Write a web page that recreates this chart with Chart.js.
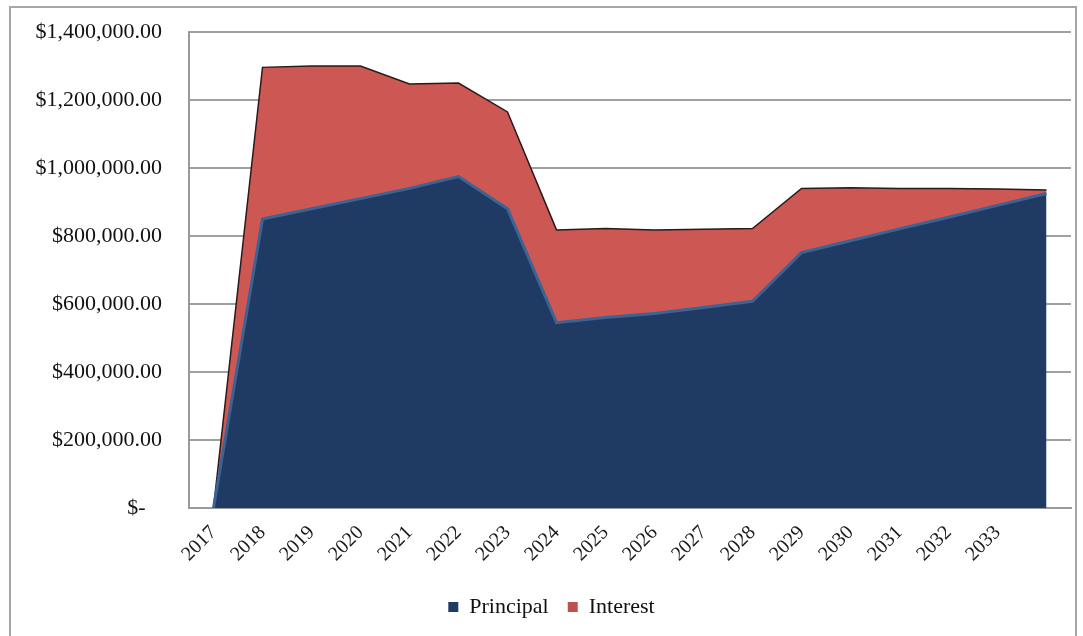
<!DOCTYPE html>
<html>
<head>
<meta charset="utf-8">
<script src="https://cdn.jsdelivr.net/npm/chart.js@4"></script>
<style>
  html, body { margin: 0; padding: 0; background: #fff; }
  #wrap { position: relative; width: 1083px; height: 636px; }
  #frame { position: absolute; left: 9px; top: 6px; width: 1068px; height: 640px;
           border: 2px solid #a6a6a6; box-sizing: border-box; }
  canvas { position: absolute; left: 0; top: 0; }
</style>
</head>
<body>
<div id="wrap">
  <div id="frame"></div>
  <canvas id="myChart" width="1083" height="636"></canvas>
</div>
<script>
const years = ["2017", "2018", "2019", "2020", "2021", "2022", "2023", "2024", "2025",
  "2026", "2027", "2028", "2029", "2030", "2031", "2032", "2033", ""];

const principal = [0, 850000, 880000, 910000, 940000, 975000, 880000, 545000, 560000,
  572000, 590000, 608000, 751000, 786000, 821000, 855000, 890000, 925000];

const interest = [0, 446000, 420000, 390000, 307000, 275000, 285000, 273000, 262000,
  246000, 230000, 214000, 189000, 156000, 119000, 85000, 48000, 10000];

const yTicks = [0, 200000, 400000, 600000, 800000, 1000000, 1200000, 1400000];

const serif = "'Liberation Serif', 'Times New Roman', serif";

function money(v) {
  if (v === 0) return "$-   ";
  return "$" + v.toLocaleString("en-US", { minimumFractionDigits: 2, maximumFractionDigits: 2 });
}

const ctx = document.getElementById("myChart");

new Chart(ctx, {
  type: "line",
  data: {
    labels: years,
    datasets: [
      {
        label: "Principal",
        data: principal,
        backgroundColor: "#1f3b63",
        borderColor: "#3b6394",
        borderWidth: 3,
        fill: "origin",
        pointRadius: 0,
        tension: 0
      },
      {
        label: "Interest",
        data: interest,
        backgroundColor: "#cd5753",
        borderColor: "#2a1a1a",
        borderWidth: 1.5,
        fill: "-1",
        pointRadius: 0,
        tension: 0
      }
    ]
  },
  options: {
    responsive: false,
    animation: false,
    layout: { padding: { left: 32, right: 12, top: 32, bottom: 8 } },
    plugins: {
      legend: {
        position: "bottom",
        labels: {
          color: "#111",
          font: { family: serif, size: 22 },
          boxWidth: 10,
          boxHeight: 10,
          padding: 19,
          generateLabels: chart => chart.data.datasets.map((ds, i) => ({
            text: ds.label,
            fillStyle: i === 0 ? "#1f3b63" : "#c0504d",
            strokeStyle: i === 0 ? "#1f3b63" : "#c0504d",
            lineWidth: 0,
            fontColor: "#111",
            datasetIndex: i
          }))
        }
      },
      tooltip: { enabled: false }
    },
    scales: {
      x: {
        offset: true,
        grid: { display: false, drawTicks: false },
        border: { color: "#999", width: 2 },
        afterFit: axis => {
          axis.height = 69;
          axis.paddingLeft = 0;
          axis.paddingRight = 0;
        },
        ticks: {
          color: "#1a1a1a",
          font: { family: serif, size: 20 },
          minRotation: 45,
          maxRotation: 45,
          autoSkip: false,
          padding: 13
        }
      },
      y: {
        stacked: true,
        min: 0,
        max: 1400000,
        afterBuildTicks: axis => {
          axis.ticks = yTicks.map(v => ({ value: v }));
        },
        afterFit: axis => {
          axis.width = 157;
          axis.paddingTop = 0;
          axis.paddingBottom = 0;
        },
        grid: { color: "#a0a0a0", lineWidth: 2, drawTicks: false },
        border: { color: "#999", width: 2 },
        ticks: {
          color: "#111",
          font: { family: serif, size: 22 },
          padding: 27,
          callback: v => money(v)
        }
      }
    }
  }
});
</script>
</body>
</html>
